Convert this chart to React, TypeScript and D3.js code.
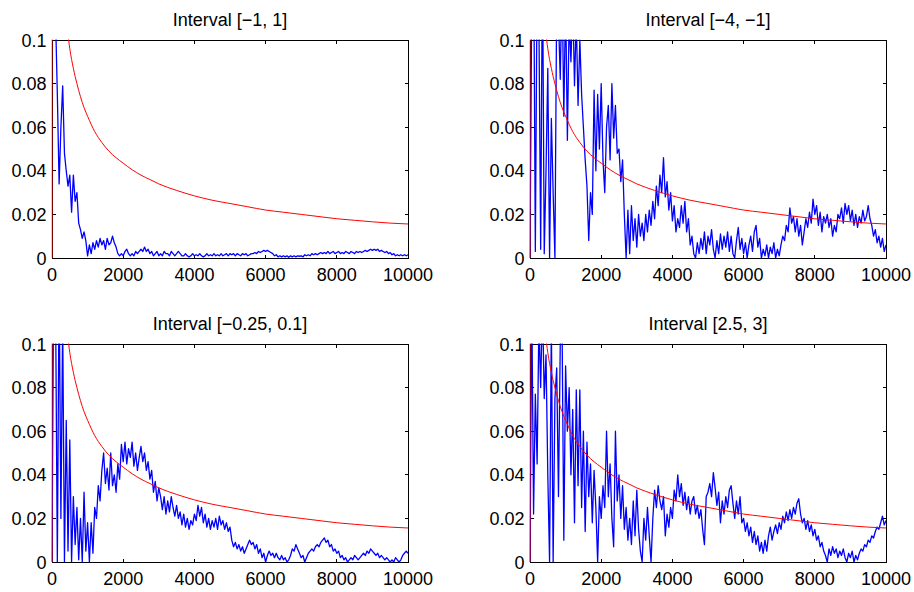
import React from "react";
import * as d3 from "d3";

const STEP = 50; // sample spacing of the blue series along n

const xTicks = [0, 2000, 4000, 6000, 8000, 10000];
const yTicks = [0, 0.02, 0.04, 0.06, 0.08, 0.1];
const yTickLabels = ["0", "0.02", "0.04", "0.06", "0.08", "0.1"];
const xTickLabels = ["0", "2000", "4000", "6000", "8000", "10000"];

const titles = [
  "Interval [\u22121, 1]",
  "Interval [\u22124, \u22121]",
  "Interval [\u22120.25, 0.1]",
  "Interval [2.5, 3]",
];

// red reference curve (same in every panel)
const redX = [0, 1, 50, 100, 200, 300, 400, 468, 500, 600, 700, 800, 900, 1000, 1200, 1400, 1600, 1800, 2000, 2250, 2500, 2750, 3000, 3500, 4000, 4500, 5000, 5500, 6000, 6500, 7000, 7500, 8000, 8500, 9000, 9500, 10000];
const redY = [0, 0.9, 0.38, 0.25, 0.16, 0.13, 0.11, 0.1, 0.096, 0.087, 0.08, 0.074, 0.069, 0.065, 0.058, 0.053, 0.049, 0.046, 0.0435, 0.0405, 0.038, 0.036, 0.034, 0.031, 0.0285, 0.0265, 0.025, 0.0235, 0.022, 0.021, 0.02, 0.019, 0.018, 0.0173, 0.0166, 0.016, 0.0156];

// blue series, one value every 50 steps from 0 to 10000
const blueA = [0.15,
  0.13, 0.11, 0.075, 0.034, 0.06, 0.079, 0.048, 0.04, 0.033, 0.038, 0.021, 0.038, 0.026, 0.03, 0.016, 0.013, 0.009, 0.012, 0.008, 0.001,
  0.006, 0.002, 0.007, 0.004, 0.008, 0.005, 0.009, 0.006, 0.008, 0.004, 0.009, 0.006, 0.007, 0.01, 0.007, 0.005, 0.002, 0.001, 0.002, 0.001,
  0.003, 0.004, 0.002, 0.001, 0.002, 0.001, 0.003, 0.002, 0.003, 0.004, 0.003, 0.005, 0.003, 0.004, 0.002, 0.003, 0.001, 0.002, 0.003, 0.001,
  0.002, 0.001, 0.003, 0.002, 0.002, 0.001, 0.003, 0.002, 0.001, 0.002, 0.003, 0.002, 0.001, 0.001, 0.002, 0.001, 0.0005, 0.001, 0.002, 0.001,
  0.0015, 0.001, 0.002, 0.001, 0.0005, 0.001, 0.002, 0.001, 0.0015, 0.001, 0.002, 0.001, 0.0015, 0.001, 0.002, 0.001, 0.0015, 0.002, 0.001, 0.002,
  0.0015, 0.002, 0.001, 0.002, 0.0015, 0.001, 0.002, 0.0015, 0.002, 0.001, 0.0015, 0.002, 0.002, 0.0025, 0.002, 0.003, 0.0025, 0.003, 0.0035, 0.003,
  0.0035, 0.003, 0.0025, 0.002, 0.001, 0.0015, 0.0005, 0.001, 0.0005, 0.001, 0.0005, 0.001, 0.0003, 0.001, 0.0005, 0.001, 0.0005, 0.001, 0.0008, 0.001,
  0.0005, 0.0015, 0.001, 0.0015, 0.001, 0.002, 0.0015, 0.002, 0.0015, 0.002, 0.0025, 0.002, 0.0025, 0.002, 0.003, 0.002, 0.0025, 0.003, 0.002, 0.0025,
  0.003, 0.002, 0.0025, 0.002, 0.003, 0.0025, 0.002, 0.003, 0.0025, 0.002, 0.003, 0.0025, 0.003, 0.0025, 0.003, 0.0035, 0.003, 0.0035, 0.004, 0.0035,
  0.004, 0.0035, 0.004, 0.003, 0.0035, 0.003, 0.0025, 0.003, 0.002, 0.0025, 0.0015, 0.002, 0.001, 0.0015, 0.001, 0.0015, 0.001, 0.0015, 0.001, 0.0015,
];

const blueB = [0.0,
  0.12, 0.15, 0.003, 0.13, 0.11, 0.004, 0.14, 0.002, 0.04, 0.087, 0.0, 0.064, 0.03, 0.0, 0.12, 0.11, 0.082, 0.13, 0.065, 0.12,
  0.054, 0.11, 0.09, 0.12, 0.079, 0.11, 0.07, 0.1, 0.075, 0.06, 0.045, 0.033, 0.008, 0.03, 0.02, 0.077, 0.04, 0.075, 0.05, 0.08,
  0.045, 0.03, 0.06, 0.07, 0.045, 0.08, 0.055, 0.07, 0.048, 0.05, 0.035, 0.045, 0.02, 0.0, 0.022, 0.002, 0.024, 0.008, 0.018, 0.005,
  0.02, 0.01, 0.016, 0.008, 0.02, 0.012, 0.022, 0.015, 0.026, 0.018, 0.033, 0.024, 0.038, 0.03, 0.046, 0.028, 0.035, 0.022, 0.03, 0.017,
  0.024, 0.012, 0.018, 0.014, 0.024, 0.016, 0.026, 0.012, 0.018, 0.006, 0.01, 0.002, 0.0, 0.007, 0.002, 0.009, 0.004, 0.012, 0.002, 0.01,
  0.006, 0.013, 0.004, 0.0, 0.008, 0.002, 0.011, 0.004, 0.01, 0.005, 0.012, 0.003, 0.01, 0.002, 0.0, 0.008, 0.014, 0.004, 0.009, 0.002,
  0.007, 0.0, 0.006, 0.01, 0.003, 0.012, 0.015, 0.005, 0.009, 0.0, 0.004, 0.001, 0.006, 0.0, 0.005, 0.002, 0.007, 0.0, 0.004, 0.001,
  0.006, 0.01, 0.008, 0.015, 0.012, 0.023, 0.016, 0.019, 0.012, 0.018, 0.01, 0.015, 0.006, 0.012, 0.018, 0.014, 0.021, 0.016, 0.027, 0.02,
  0.024, 0.015, 0.021, 0.012, 0.019, 0.016, 0.02, 0.014, 0.018, 0.01, 0.015, 0.012, 0.02, 0.018, 0.023, 0.016, 0.025, 0.02, 0.024, 0.017,
  0.022, 0.015, 0.02, 0.014, 0.019, 0.016, 0.022, 0.017, 0.019, 0.024, 0.018, 0.015, 0.01, 0.013, 0.007, 0.01, 0.005, 0.009, 0.003, 0.006,
];

const blueC = [0.0,
  0.14, 0.12, 0.0, 0.13, 0.02, 0.11, 0.0, 0.065, 0.005, 0.056, 0.0, 0.03, 0.008, 0.025, 0.001, 0.02, 0.0, 0.032, 0.005, 0.018,
  0.0, 0.018, 0.004, 0.025, 0.02, 0.035, 0.028, 0.042, 0.05, 0.036, 0.043, 0.033, 0.05, 0.035, 0.04, 0.032, 0.045, 0.038, 0.054, 0.046,
  0.055, 0.045, 0.052, 0.048, 0.055, 0.044, 0.05, 0.042, 0.048, 0.053, 0.046, 0.05, 0.042, 0.046, 0.038, 0.042, 0.032, 0.037, 0.028, 0.034,
  0.03, 0.024, 0.03, 0.022, 0.028, 0.023, 0.03, 0.025, 0.021, 0.026, 0.02, 0.023, 0.017, 0.022, 0.016, 0.02, 0.015, 0.019, 0.017, 0.022,
  0.019, 0.026, 0.021, 0.025, 0.018, 0.022, 0.016, 0.02, 0.015, 0.019, 0.016, 0.02, 0.015, 0.021, 0.017, 0.019, 0.015, 0.018, 0.014, 0.016,
  0.01, 0.007, 0.009, 0.006, 0.008, 0.005, 0.007, 0.004, 0.006, 0.008, 0.01, 0.008, 0.009, 0.006, 0.008, 0.004, 0.006, 0.002, 0.004, 0.0,
  0.003, 0.005, 0.003, 0.004, 0.002, 0.004, 0.002, 0.001, 0.003, 0.001, 0.002, 0.0, 0.001, 0.003, 0.006, 0.005, 0.008, 0.006, 0.004, 0.002,
  0.003, 0.0, 0.002, 0.004, 0.005, 0.006, 0.005, 0.007, 0.008, 0.007, 0.009, 0.01, 0.011, 0.009, 0.01, 0.007, 0.008, 0.005, 0.006, 0.004,
  0.005, 0.002, 0.003, 0.001, 0.002, 0.0, 0.001, 0.002, 0.001, 0.003, 0.002, 0.001, 0.002, 0.003, 0.004, 0.003, 0.005, 0.004, 0.006, 0.005,
  0.004, 0.003, 0.004, 0.002, 0.003, 0.002, 0.001, 0.002, 0.001, 0.0, 0.001, 0.0, 0.002, 0.001, 0.0, 0.001, 0.003, 0.004, 0.005, 0.004,
];

const blueD = [0.0,
  0.12, 0.022, 0.077, 0.045, 0.11, 0.08, 0.12, 0.075, 0.095, 0.04, 0.0, 0.11, 0.0, 0.075, 0.089, 0.03, 0.1, 0.11, 0.01, 0.09,
  0.06, 0.08, 0.04, 0.07, 0.018, 0.079, 0.035, 0.079, 0.025, 0.06, 0.014, 0.055, 0.03, 0.045, 0.018, 0.042, 0.025, 0.0, 0.03, 0.02,
  0.035, 0.025, 0.06, 0.03, 0.045, 0.02, 0.007, 0.06, 0.028, 0.04, 0.02, 0.035, 0.015, 0.025, 0.01, 0.02, 0.008, 0.028, 0.012, 0.033,
  0.015, 0.005, 0.0, 0.02, 0.01, 0.025, 0.012, 0.0, 0.02, 0.033, 0.025, 0.035, 0.028, 0.024, 0.03, 0.012, 0.022, 0.016, 0.025, 0.02,
  0.033, 0.028, 0.04, 0.03, 0.036, 0.026, 0.032, 0.024, 0.03, 0.022, 0.028, 0.03, 0.022, 0.026, 0.02, 0.024, 0.015, 0.008, 0.03, 0.032,
  0.036, 0.03, 0.041, 0.034, 0.026, 0.032, 0.018, 0.028, 0.022, 0.03, 0.025, 0.033, 0.035, 0.027, 0.02, 0.028, 0.022, 0.03, 0.018, 0.02,
  0.014, 0.018, 0.012, 0.016, 0.009, 0.014, 0.008, 0.012, 0.005, 0.009, 0.004, 0.01, 0.005, 0.012, 0.016, 0.01, 0.014, 0.017, 0.013, 0.018,
  0.015, 0.021, 0.018, 0.023, 0.019, 0.024, 0.02, 0.025, 0.022, 0.027, 0.029, 0.022, 0.018, 0.02, 0.015, 0.019, 0.014, 0.017, 0.012, 0.015,
  0.01, 0.012, 0.007, 0.009, 0.005, 0.003, 0.0, 0.006, 0.003, 0.007, 0.004, 0.006, 0.002, 0.005, 0.003, 0.006, 0.002, 0.0, 0.004, 0.002,
  0.005, 0.0, 0.003, 0.001, 0.004, 0.006, 0.005, 0.008, 0.007, 0.01, 0.009, 0.012, 0.011, 0.014, 0.016, 0.015, 0.018, 0.021, 0.017, 0.019,
];

const blueSeries = [blueA, blueB, blueC, blueD];

const W = 914;
const H = 592;
const PW = 356;
const PH = 218;
const origins = [
  [52, 40],
  [530, 40],
  [52, 344],
  [530, 344],
];

const FONT = "'Liberation Sans', Arial, Helvetica, sans-serif";

function Panel({ idx }: { idx: number }) {
  const [ox, oy] = origins[idx];
  const x = d3.scaleLinear().domain([0, 10000]).range([ox, ox + PW]);
  const y = d3.scaleLinear().domain([0, 0.1]).range([oy + PH, oy]);
  const blue = blueSeries[idx];
  const line = d3
    .line<number>()
    .x((_, i) => x(i * STEP))
    .y((d) => y(d));
  const redLine = d3
    .line<number>()
    .x((_, i) => x(redX[i]))
    .y((d) => y(d))
    .curve(d3.curveMonotoneX);
  const clipId = `clip${idx}`;
  const tl = 3.5;
  return (
    <g>
      <defs>
        <clipPath id={clipId}>
          <rect x={ox - 0.5} y={oy - 0.5} width={PW + 1} height={PH + 1} />
        </clipPath>
      </defs>
      <rect x={ox + 0.5} y={oy + 0.5} width={PW} height={PH} fill="white" stroke="black" strokeWidth={1} shapeRendering="crispEdges" />
      {xTicks.map((t) => (
        <g key={"xt" + t}>
          <line x1={x(t)} x2={x(t)} y1={oy + PH} y2={oy + PH - tl} stroke="black" shapeRendering="crispEdges" />
          <line x1={x(t)} x2={x(t)} y1={oy} y2={oy + tl} stroke="black" shapeRendering="crispEdges" />
        </g>
      ))}
      {yTicks.map((t) => (
        <g key={"yt" + t}>
          <line x1={ox} x2={ox + tl} y1={y(t)} y2={y(t)} stroke="black" shapeRendering="crispEdges" />
          <line x1={ox + PW} x2={ox + PW - tl} y1={y(t)} y2={y(t)} stroke="black" shapeRendering="crispEdges" />
        </g>
      ))}
      <g clipPath={`url(#${clipId})`}>
        <path d={line(blue) || ""} fill="none" stroke="#0000ff" strokeWidth={1.3} strokeLinejoin="round" />
        <path d={redLine(redY) || ""} fill="none" stroke="#ff0000" strokeWidth={1} />
      </g>
      {xTicks.map((t, i) => (
        <text key={"xl" + t} x={x(t)} y={oy + PH + 23} textAnchor="middle" fontSize={18} fontFamily={FONT} fill="black">
          {xTickLabels[i]}
        </text>
      ))}
      {yTicks.map((t, i) => (
        <text key={"yl" + t} x={ox - 5.5} y={y(t) + 6.5} textAnchor="end" fontSize={18} fontFamily={FONT} fill="black">
          {yTickLabels[i]}
        </text>
      ))}
      <text x={ox + PW / 2} y={oy - 14.2} textAnchor="middle" fontSize={18} fontFamily={FONT} fill="black">
        {titles[idx]}
      </text>
    </g>
  );
}

export default function App() {
  return (
    <svg
      width={W}
      height={H}
      viewBox={`0 0 ${W} ${H}`}
      style={{ position: "absolute", left: 0, top: 0, background: "white" }}
    >
      <rect x={0} y={0} width={W} height={H} fill="white" />
      {[0, 1, 2, 3].map((i) => (
        <Panel key={i} idx={i} />
      ))}
    </svg>
  );
}
